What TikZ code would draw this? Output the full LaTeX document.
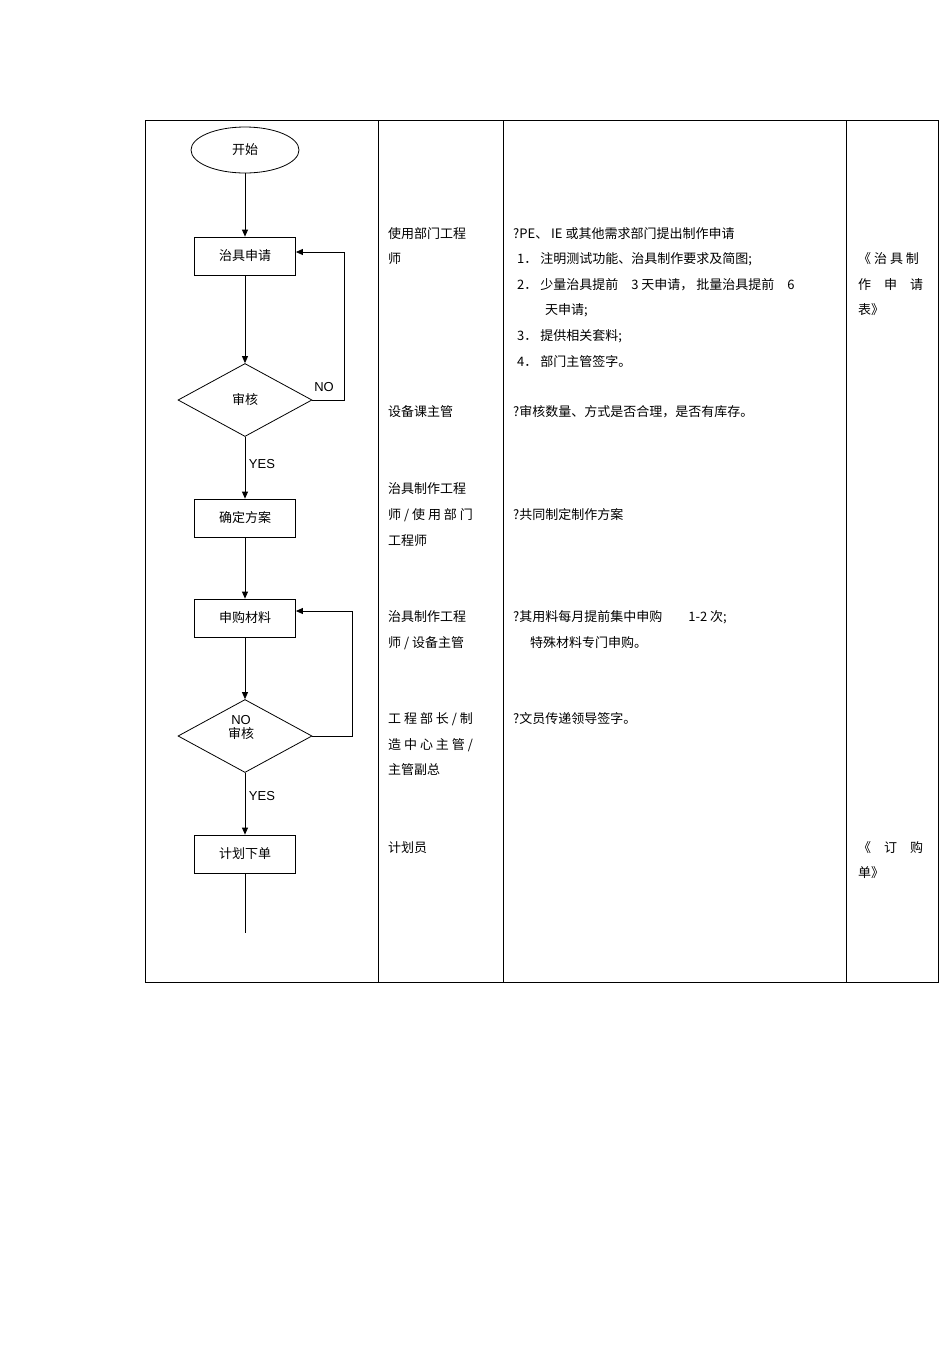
\documentclass[tikz,border=0pt]{standalone}
\usepackage{fontspec}
\setmainfont{Liberation Sans}
\newfontfamily\cjk{Noto Sans CJK SC}
\usetikzlibrary{shapes.geometric,arrows.meta}
\begin{document}
\begin{tikzpicture}[x=1pt,y=-1pt,
  every node/.style={font=\cjk\fontsize{13}{15}\selectfont},
  box/.style={draw,thick,minimum width=101pt,minimum height=38pt,inner sep=0pt},
  dia/.style={draw,thick,diamond,aspect=1.83,minimum width=134pt,minimum height=73pt,inner sep=0pt},
  arr/.style={thick,-{Triangle[length=7pt,width=6pt]}},
  txt/.style={anchor=west,inner sep=0pt,align=left},
  lbl/.style={font=\fontsize{13}{15}\selectfont,inner sep=0pt}]
\useasboundingbox (0,0) rectangle (950,1345);
\draw[thick] (145,120) rectangle (938,982);
\foreach \x in {378,503,846} \draw[thick] (\x,120) -- (\x,982);
\node[draw,thick,ellipse,minimum width=108pt,minimum height=46pt] (s) at (245,150) {开始};
\node[box] (b1) at (245,256) {治具申请};
\node[dia] (d1) at (245,400) {审核};
\node[box] (b2) at (245,518) {确定方案};
\node[box] (b3) at (245,618) {申购材料};
\node[dia] (d2) at (245,736) {};
\node[box] (b4) at (245,854) {计划下单};
\coordinate (e) at (245,933);
\draw[arr] (s) -- (b1);
\draw[arr] (b1) -- (d1);
\draw[arr] (d1) -- (b2);
\draw[arr] (b2) -- (b3);
\draw[arr] (b3) -- (d2);
\draw[arr] (d2) -- (b4);
\draw[thick] (b4) -- (e);
\draw[arr] (d1.east) -- (344,400) -- (344,252) -- (b1.east |- 0,252);
\draw[arr] (d2.east) -- (352,736) -- (352,611) -- (b3.east |- 0,611);
\node[lbl] at (324,387) {NO};
\node[lbl] at (262,464) {YES};
\node[lbl] at (241,720) {NO};
\node at (241,734) {审核};
\node[lbl] at (262,796) {YES};
% column 2
\node[txt] at (388,234) {使用部门工程};
\node[txt] at (388,259) {师};
\node[txt] at (388,412) {设备课主管};
\node[txt] at (388,489) {治具制作工程};
\node[txt] at (388,515) {师 / 使 用 部 门};
\node[txt] at (388,541) {工程师};
\node[txt] at (388,617) {治具制作工程};
\node[txt] at (388,643) {师 / 设备主管};
\node[txt] at (388,719) {工 程 部 长 / 制};
\node[txt] at (388,745) {造 中 心 主 管 /};
\node[txt] at (388,770) {主管副总};
\node[txt] at (388,848) {计划员};
% column 3
\node[txt] at (513,234) {?PE、 IE 或其他需求部门提出制作申请};
\node[txt] at (517,259) {1． 注明测试功能、治具制作要求及简图;};
\node[txt] at (517,285) {2． 少量治具提前\quad 3 天申请， 批量治具提前\quad 6};
\node[txt] at (545,310) {天申请;};
\node[txt] at (517,336) {3． 提供相关套料;};
\node[txt] at (517,362) {4． 部门主管签字。};
\node[txt] at (513,412) {?审核数量、方式是否合理，是否有库存。};
\node[txt] at (513,515) {?共同制定制作方案};
\node[txt] at (513,617) {?其用料每月提前集中申购\qquad 1-2 次;};
\node[txt] at (530,643) {特殊材料专门申购。};
\node[txt] at (513,719) {?文员传递领导签字。};
% column 4
\node[txt] at (858,259) {《 治 具 制};
\node[txt] at (858,285) {作\quad 申\quad 请};
\node[txt] at (858,310) {表》};
\node[txt] at (858,848) {《\quad 订\quad 购};
\node[txt] at (858,873) {单》};
\end{tikzpicture}
\end{document}
